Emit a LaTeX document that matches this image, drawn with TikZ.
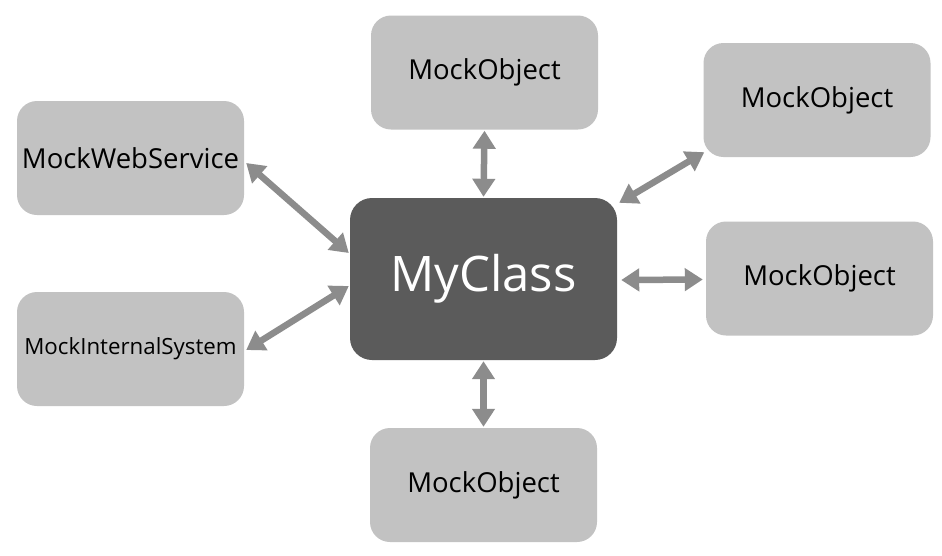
\documentclass[tikz,border=0pt]{standalone}
\usepackage{fontspec}
\setmainfont{Open Sans}
\usetikzlibrary{arrows.meta,calc}
\definecolor{boxgray}{HTML}{C2C2C2}
\definecolor{darkbox}{HTML}{5B5B5B}
\definecolor{arrgray}{HTML}{8C8C8C}
\tikzset{
  mock/.style={fill=boxgray, draw=none, rounded corners=20pt, minimum width=227pt, minimum height=114pt, text=black, font=\fontsize{27.5}{31}\selectfont},
  main/.style={fill=darkbox, draw=none, rounded corners=22pt, minimum width=267pt, minimum height=162pt, text=white, font=\fontsize{49}{54}\selectfont},
  link/.style={draw=arrgray, line width=6.5pt, {Triangle[width=22pt,length=18pt]}-{Triangle[width=22pt,length=18pt]}, shorten <=0pt, shorten >=0pt}
}
\begin{document}
\begin{tikzpicture}[x=1pt,y=-1pt]
\useasboundingbox (0,0) rectangle (942,555);
\fill[white] (0,0) rectangle (942,555);
\node[main] (my) at (483.5,279) {MyClass};
\node[mock] (top) at (484.5,72.5) {MockObject};
\node[mock] (tr) at (817,100) {MockObject};
\node[mock] (rt) at (819.5,278.5) {MockObject};
\node[mock] (bot) at (483.5,485) {MockObject};
\node[mock] (web) at (130.5,158) {MockWebService};
\node[mock, font=\fontsize{22.3}{26}\selectfont] (int) at (130.5,349) {MockInternalSystem};
\draw[link] ($(top.south)+(0,1)$) -- ($(my.north)+(0,-1)$);
\draw[link] ($(bot.north)+(0,-1)$) -- ($(my.south)+(0,1)$);
\draw[link] ($(rt.west)+(-3,1)$) -- ($(my.east)+(4,1)$);
\draw[link] ($(tr.south west)+(1,-5)$) -- ($(my.north east)+(2,5)$);
\draw[link] ($(web.east)+(2,5)$) -- ($(my.west)+(-1,-26)$);
\draw[link] ($(int.east)+(2,1)$) -- ($(my.west)+(-1,7)$);
\end{tikzpicture}
\end{document}
